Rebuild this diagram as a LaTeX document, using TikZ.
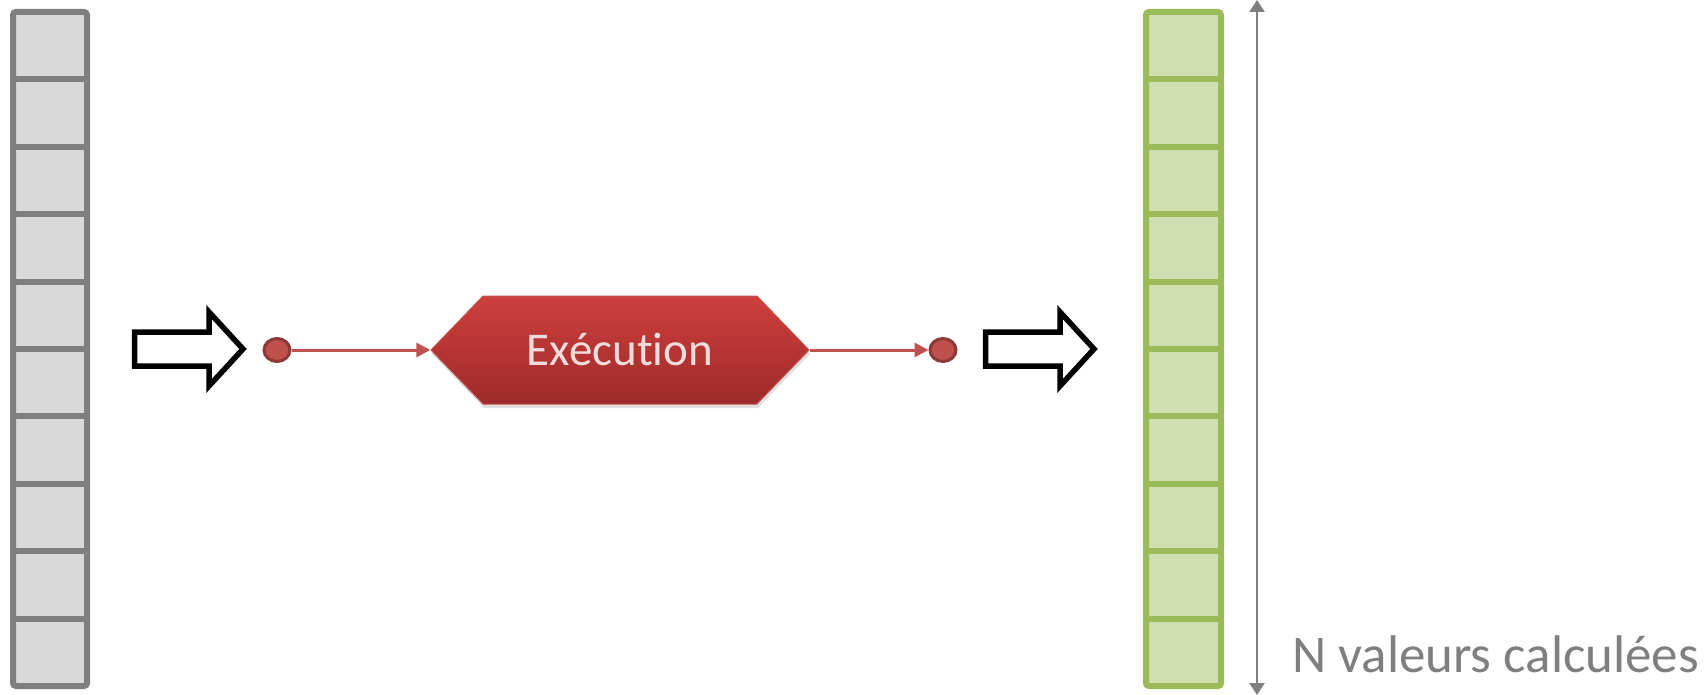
\documentclass[tikz,border=0pt]{standalone}
\usepackage{fontspec}
\setmainfont[Ligatures=NoCommon]{Carlito}
\usetikzlibrary{%
  arrows.meta,%
  shapes,% wg. signal, ellipse
  shadows,%
  positioning%
}
\definecolor{cellgray}{HTML}{D9D9D9}
\definecolor{linegray}{HTML}{7F7F7F}
\definecolor{cellgreen}{HTML}{D0DFB1}
\definecolor{linegreen}{HTML}{9BBB59}
\definecolor{exered}{HTML}{C0504D}
\definecolor{exedark}{HTML}{8C3836}
\definecolor{exetop}{HTML}{CE3F3C}
\definecolor{exebot}{HTML}{9D2A2A}
\definecolor{exetext}{HTML}{F2DCDB}

\begin{document}
\begin{tikzpicture}[
  x=1pt, y=-1pt,
  redline/.style={draw=exered, line width=3pt, -{Triangle[length=14pt,width=14pt]}},
  dot/.style={ellipse, draw=exedark, fill=exered, line width=3pt,
    minimum width=26pt, minimum height=23pt, inner sep=0pt},
  hollow/.style={draw=black, line width=5.5pt, fill=white, miter limit=10},
]
\useasboundingbox (0,0) rectangle (1708,695);

% input column
\fill[cellgray] (13,12) rectangle (87,686);
\foreach \i in {1,...,9} {
  \draw[linegray, line width=6pt] (13,12+67.4*\i) -- (87,12+67.4*\i);
}
\draw[linegray, line width=6pt, rounded corners=3pt] (13,12) rectangle (87,686);

% output column
\fill[cellgreen] (1146,12) rectangle (1221,686);
\foreach \i in {1,...,9} {
  \draw[linegreen, line width=6pt] (1146,12+67.4*\i) -- (1221,12+67.4*\i);
}
\draw[linegreen, line width=6pt, rounded corners=3pt] (1146,12) rectangle (1221,686);

% hollow arrows
\foreach \ax in {132,983} {
  \draw[hollow] (\ax+2.5,332) -- (\ax+77,332) -- (\ax+77,312) -- (\ax+111,349)
    -- (\ax+77,386) -- (\ax+77,366) -- (\ax+2.5,366) -- cycle;
}

\node[signal, signal to=west and east, signal pointer angle=92,
  minimum width=378pt, minimum height=108pt, inner sep=0pt,
  top color=exetop, bottom color=exebot, draw=exered, line width=1pt,
  drop shadow={shadow xshift=1pt, shadow yshift=-4pt, opacity=0.25},
  text=exetext, font=\fontsize{47}{47}\selectfont] (exe) at (620,350) {Exécution};

\node[dot] (cin) at (277,350) {};
\node[dot] (cout) at (943,350) {};
\draw[redline] (cin) -- (exe.west);
\draw[redline] (exe.east) -- (cout);

\coordinate (ntop) at (1257,0);
\coordinate (nbot) at (1257,695);
\draw[linegray, line width=2.5pt,
  {Triangle[length=12pt,width=15pt]}-{Triangle[length=12pt,width=15pt]}] (ntop) -- (nbot);
\node[anchor=base west, inner sep=0pt, text=linegray,
  font=\fontsize{53}{53}\selectfont] (nlab) at (1292,672) {N valeurs calculées};

\end{tikzpicture}
\end{document}
